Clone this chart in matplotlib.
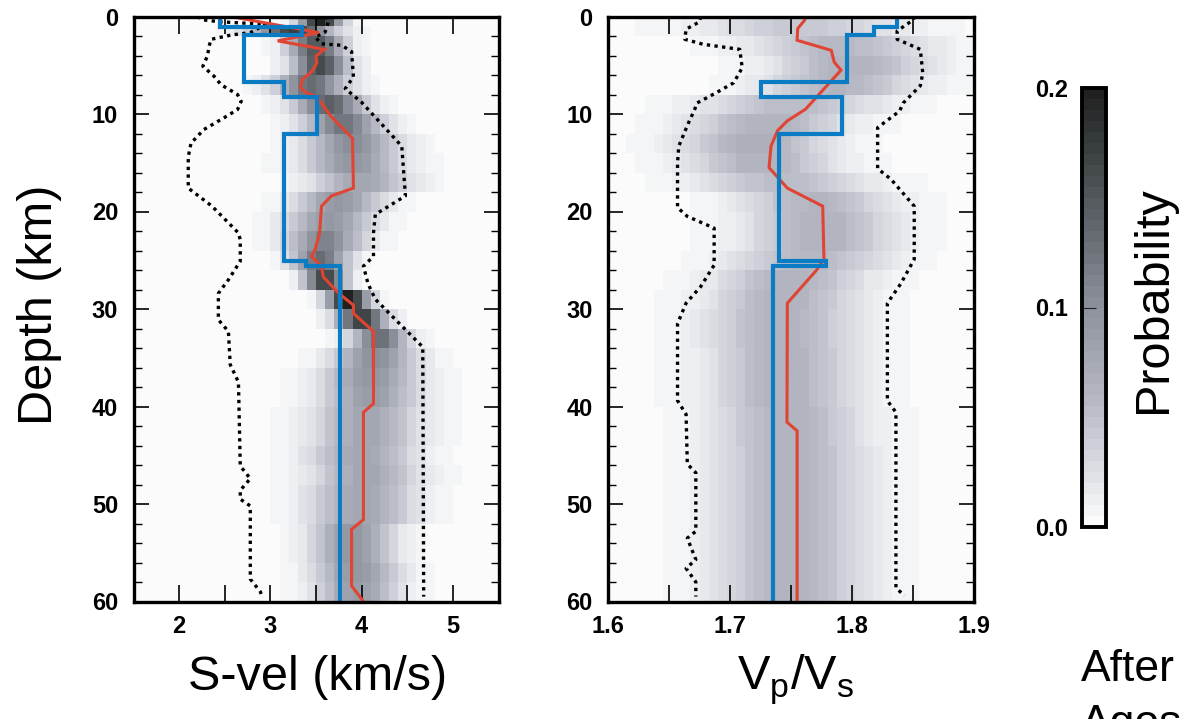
import numpy as np
import matplotlib
matplotlib.use("Agg")
import matplotlib.pyplot as plt
from matplotlib.colors import LinearSegmentedColormap
from matplotlib.cm import ScalarMappable
from matplotlib.colors import Normalize

plt.rcParams["font.family"] = ["Liberation Sans", "DejaVu Sans"]

# ---------------------------------------------------------------- data
max_depth = 60.0

# layered reference model: top of each layer (km) and its values
layer_tops = [0.0, 1.07, 1.93, 6.73, 8.28, 12.06, 25.1, 25.6]
model_vs = [2.45, 3.35, 2.71, 3.15, 3.51, 3.15, 3.39, 3.76]
model_vpvs = [1.837, 1.818, 1.796, 1.725, 1.7915, 1.740, 1.779, 1.735]

# posterior mean S-velocity profile
mean_vs_depth = [0, 1.65, 2.5, 3.37, 4.05, 4.74, 5.6, 6.46, 7.3, 7.8, 8.2, 9.0,
                 10.2, 12.5, 17.6, 18.4, 19.45, 22.2, 23.9, 24.6, 25.6, 26.7,
                 28.4, 29.6, 30.45, 32.3, 39.7, 40.6, 51.6, 52.6, 58.4, 60]
mean_vs = [2.56, 3.53, 3.08, 3.59, 3.50, 3.51, 3.46, 3.35, 3.33, 3.39, 3.50, 3.57,
           3.66, 3.90, 3.91, 3.67, 3.56, 3.54, 3.49, 3.45, 3.56, 3.58,
           3.75, 3.91, 3.91, 4.13, 4.13, 4.02, 4.02, 3.89, 3.89, 4.02]

# credible bounds of S-velocity
vs_low_depth = [0, 0.34, 0.55, 0.8, 1.65, 1.9, 2.34, 3.0, 4.05, 5.1, 6.1, 7.0, 8.0,
                8.7, 9.55, 10.4, 11.6, 13.0, 14.4, 17.6, 19.45, 22.2, 22.9, 25.1,
                27.0, 28.4, 31.1, 32.3, 35.7, 37.5, 46.1, 47.4, 48.6, 49.5, 50.2,
                57.7, 59.0, 59.5]
vs_low = [2.2, 2.255, 2.456, 2.95, 2.78, 2.57, 2.35, 2.33, 2.31, 2.26, 2.38, 2.46, 2.64,
          2.68, 2.64, 2.49, 2.27, 2.13, 2.10, 2.10, 2.36, 2.65, 2.67, 2.67,
          2.54, 2.43, 2.43, 2.54, 2.56, 2.65, 2.67, 2.78, 2.67, 2.67, 2.78,
          2.78, 2.89, 2.91]
vs_high_depth = [0, 0.4, 1.6, 2.1, 2.8, 2.95, 3.6, 6.2, 7.4, 8.8, 13.3, 18.4, 20.3,
                 22.2, 24.6, 25.6, 27.4, 29.0, 33.9, 59.5]
vs_high = [3.60, 3.64, 3.60, 3.49, 3.56, 3.78, 3.89, 3.91, 3.82, 4.00, 4.44, 4.48, 4.15,
           4.13, 4.13, 4.02, 4.07, 4.15, 4.67, 4.68]

# posterior mean Vp/Vs profile
mean_vpvs_depth = [0, 0.4, 1.24, 2.44, 3.47, 4.7, 5.5, 9.5, 10.7, 11.7, 13.3, 15.5,
                   16.9, 17.6, 19.45, 24.9, 26.0, 29.4, 41.6, 42.5, 60]
mean_vpvs = [1.762, 1.761, 1.7555, 1.755, 1.783, 1.7855, 1.791, 1.762, 1.747, 1.739,
             1.7336, 1.732, 1.742, 1.747, 1.776, 1.777, 1.771, 1.747, 1.7467, 1.755,
             1.755]

# credible bounds of Vp/Vs
vpvs_low_depth = [0, 0.55, 1.3, 2.34, 2.85, 3.37, 5.26, 6.8, 7.8, 8.87, 9.55, 10.9,
                  13.3, 15.0, 19.6, 20.5, 21.7, 25.5, 27.7, 29.4, 31.5, 39.4, 40.8,
                  45.9, 46.8, 52.8, 53.5, 55.7, 56.6, 58.0, 59.5]
vpvs_low = [1.676, 1.675, 1.664, 1.663, 1.678, 1.708, 1.710, 1.703, 1.689, 1.673, 1.671,
            1.666, 1.658, 1.657, 1.657, 1.665, 1.687, 1.687, 1.676, 1.664, 1.657,
            1.657, 1.664, 1.665, 1.672, 1.672, 1.665, 1.672, 1.664, 1.672, 1.672]
vpvs_high_depth = [0, 0.45, 1.48, 2.34, 3.37, 5.8, 7.1, 8.87, 9.7, 11.4, 15.6, 16.7,
                   19.45, 24.9, 27.4, 29.4, 39.4, 40.6, 58.6, 59.4]
vpvs_high = [1.852, 1.849, 1.837, 1.837, 1.856, 1.858, 1.856, 1.842, 1.839, 1.821,
             1.821, 1.832, 1.851, 1.851, 1.840, 1.829, 1.829, 1.836, 1.836, 1.843]

# posterior probability: depth rows with mode, spread and peak value
row_edges = [0, 1, 2] + list(range(4, 61, 2))
vs_row_mode = [3.55, 3.25, 3.50, 3.55, 3.45, 3.65, 3.80, 3.90, 3.90, 4.00, 3.75, 3.65,
               3.60, 3.55, 3.60, 3.85, 4.00, 4.20, 4.15, 4.10, 4.10, 4.05, 4.05, 4.00,
               4.05, 4.00, 4.00, 3.90, 3.90, 3.95, 3.95]
vs_row_spread = [0.15, 0.28, 0.20, 0.20, 0.25, 0.25, 0.28, 0.33, 0.35, 0.35, 0.30, 0.30,
                 0.27, 0.20, 0.15, 0.15, 0.18, 0.20, 0.30, 0.35, 0.35, 0.38, 0.38, 0.38,
                 0.38, 0.38, 0.38, 0.30, 0.30, 0.30, 0.30]
vs_row_peak = [0.20, 0.17, 0.15, 0.16, 0.13, 0.14, 0.12, 0.10, 0.09, 0.075, 0.09, 0.09,
               0.11, 0.13, 0.17, 0.20, 0.17, 0.13, 0.10, 0.09, 0.085, 0.075, 0.075, 0.075,
               0.075, 0.075, 0.075, 0.09, 0.09, 0.09, 0.085]

vpvs_row_mode = [1.760, 1.760, 1.790, 1.800, 1.790, 1.750, 1.730, 1.720, 1.725, 1.745,
                 1.770, 1.775, 1.775, 1.765, 1.750, 1.745, 1.742, 1.742, 1.745, 1.745,
                 1.745, 1.748, 1.748, 1.750, 1.750, 1.750, 1.750, 1.750, 1.750, 1.750,
                 1.750]
vpvs_row_spread = [0.055, 0.055, 0.048, 0.042, 0.042, 0.048, 0.042, 0.040, 0.040, 0.045,
                   0.040, 0.040, 0.040, 0.042, 0.040, 0.040, 0.040, 0.040, 0.040, 0.040,
                   0.040, 0.040, 0.040, 0.040, 0.040, 0.040, 0.040, 0.040, 0.040, 0.040,
                   0.040]
vpvs_row_peak = [0.040, 0.040, 0.055, 0.062, 0.058, 0.052, 0.062, 0.066, 0.062, 0.052,
                 0.058, 0.062, 0.062, 0.056, 0.060, 0.062, 0.062, 0.062, 0.062, 0.062,
                 0.062, 0.062, 0.062, 0.062, 0.062, 0.062, 0.062, 0.062, 0.062, 0.062,
                 0.062]

prob_floor = 0.003
prob_max = 0.2

# ---------------------------------------------------------------- style
prob_cmap = LinearSegmentedColormap.from_list(
    "prob",
    [(0.00, (0.985, 0.985, 0.99)),
     (0.10, (0.88, 0.89, 0.91)),
     (0.25, (0.74, 0.75, 0.79)),
     (0.50, (0.55, 0.57, 0.61)),
     (0.75, (0.33, 0.35, 0.37)),
     (0.90, (0.20, 0.22, 0.22)),
     (1.00, (0.13, 0.13, 0.13))], N=40)

blue = "#0b7bc4"
red = "#e04432"
tick_font = dict(fontsize=17, fontweight="bold")
label_size = 35


def step_profile(tops, values, bottom):
    depth, vals = [], []
    edges = list(tops) + [bottom]
    for i, v in enumerate(values):
        depth += [edges[i], edges[i + 1]]
        vals += [v, v]
    return vals, depth


def probability_grid(x_edges, mode, spread, peak):
    xc = 0.5 * (x_edges[:-1] + x_edges[1:])
    rows = []
    for m, s, p in zip(mode, spread, peak):
        rows.append(prob_floor + p * np.exp(-0.5 * ((xc - m) / s) ** 2))
    return np.array(rows)


def style_axis(ax, xlim, xmajor, xlabels):
    ax.set_xlim(*xlim)
    ax.set_ylim(max_depth, 0)
    ax.set_xticks(xmajor)
    ax.set_xticklabels(xlabels, **tick_font)
    ax.set_yticks(range(0, 61, 10))
    ax.set_yticklabels([str(v) for v in range(0, 61, 10)], **tick_font)
    ax.set_yticks(np.arange(0, 61, 2), minor=True)
    ax.tick_params(axis="x", which="both", direction="in", top=True, bottom=True,
                   length=12, width=1.2, pad=10)
    ax.tick_params(axis="y", which="major", direction="in", left=True, right=True,
                   length=11, width=1.2, pad=11)
    ax.tick_params(axis="y", which="minor", direction="in", left=True, right=True,
                   length=5.5, width=1.0)
    for sp in ax.spines.values():
        sp.set_linewidth(2.4)
        sp.set_zorder(5)


def draw_panel(ax, x_edges, mode, spread, peak, low, low_d, high, high_d,
               mean, mean_d, model):
    grid = probability_grid(x_edges, mode, spread, peak)
    ax.pcolormesh(x_edges, row_edges, grid, cmap=prob_cmap, vmin=0, vmax=prob_max,
                  shading="flat", rasterized=True)
    for xs, ds in ((low, low_d), (high, high_d)):
        ax.plot(xs, ds, color="black", lw=2.4, ls=(0, (1.0, 1.3)),
                dash_capstyle="butt")
    ax.plot(mean, mean_d, color=red, lw=2.2, solid_joinstyle="miter")
    sx, sy = step_profile(layer_tops, model, max_depth)
    ax.plot(sx, sy, color=blue, lw=3.0, solid_joinstyle="miter")


fig = plt.figure(figsize=(11.82, 7.19), dpi=100)
W, H = 1182.0, 719.0
ax1 = fig.add_axes([133.5 / W, (H - 601.5) / H, 365 / W, 585 / H])
ax2 = fig.add_axes([608 / W, (H - 601.5) / H, 366 / W, 585 / H])
cax = fig.add_axes([1082 / W, (H - 527) / H, 24 / W, 439 / H])

# S-velocity panel
draw_panel(ax1, np.arange(1.5, 5.5001, 0.1), vs_row_mode, vs_row_spread, vs_row_peak,
           vs_low, vs_low_depth, vs_high, vs_high_depth, mean_vs, mean_vs_depth,
           model_vs)
style_axis(ax1, (1.5, 5.5), np.arange(2, 5.01, 0.5),
           ["2", "", "3", "", "4", "", "5"])

# Vp/Vs panel
draw_panel(ax2, np.arange(1.6, 1.9001, 0.0075), vpvs_row_mode, vpvs_row_spread,
           vpvs_row_peak, vpvs_low, vpvs_low_depth, vpvs_high, vpvs_high_depth,
           mean_vpvs, mean_vpvs_depth, model_vpvs)
style_axis(ax2, (1.6, 1.9), np.arange(1.6, 1.9001, 0.05),
           ["1.6", "", "1.7", "", "1.8", "", "1.9"])

# colour bar
cb = fig.colorbar(ScalarMappable(norm=Normalize(0, prob_max), cmap=prob_cmap), cax=cax)
cb.set_ticks([0.0, 0.1, 0.2])
cb.set_ticklabels(["0.0", "0.1", "0.2"], **tick_font)
cax.yaxis.set_ticks_position("left")
cax.tick_params(axis="y", direction="in", length=10, width=0.8, pad=10,
                color="#222222")
cb.outline.set_linewidth(2.8)

# labels
fig.text(40 / W, 1 - 305 / H, "Depth (km)", rotation=90, ha="center", va="center",
         fontsize=label_size)
fig.text(318 / W, 1 - 690 / H, "S-vel (km/s)", ha="center", va="baseline",
         fontsize=label_size)
fig.text(796 / W, 1 - 690 / H, r"V$_\mathregular{p}$/V$_\mathregular{s}$",
         ha="center", va="baseline", fontsize=label_size)
fig.text(1153 / W, 1 - 300 / H, "Probability", rotation=90, ha="center",
         va="center", fontsize=label_size)
fig.text(1081 / W, 1 - 681 / H, "After", ha="left", va="baseline", fontsize=32)
fig.text(1081 / W, 1 - 736 / H, "Agostinetti", ha="left", va="baseline", fontsize=32)

fig.savefig("out.png", dpi=100)
